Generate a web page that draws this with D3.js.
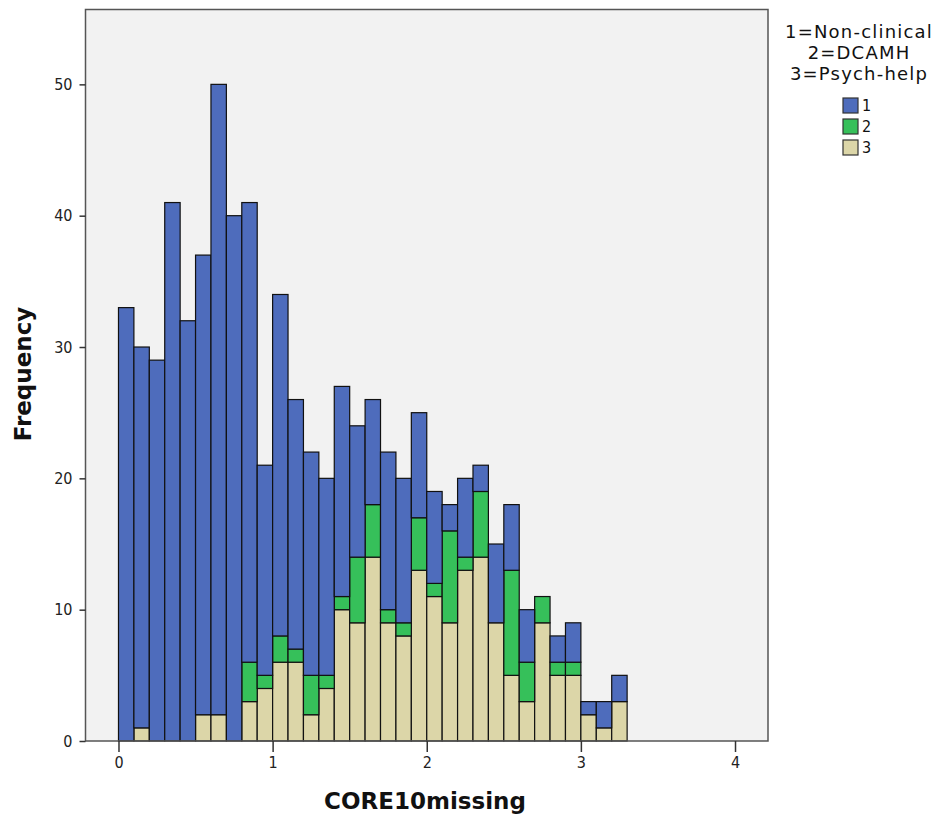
<!DOCTYPE html>
<html>
<head>
<meta charset="utf-8">
<script src="https://cdn.jsdelivr.net/npm/d3@7"></script>
<style>
  body { margin: 0; background: #fff; }
  text { font-family: "DejaVu Sans", sans-serif; }
</style>
</head>
<body>
<svg id="chart" width="941" height="815"></svg>
<script>
// bin lower edges (width 0.1)
let binStarts = d3.range(33).map(i => +(i * 0.1).toFixed(1));
let binWidth = 0.1;

// counts per group, one per bin
let group1 = [33, 29, 29, 41, 32, 35, 48, 40, 35, 16, 26, 19, 17, 15, 16, 10,
              8, 12, 11, 8, 7, 2, 6, 2, 6, 5, 4, 0, 2, 3, 1, 2, 2];
let group2 = [0, 0, 0, 0, 0, 0, 0, 0, 3, 1, 2, 1, 3, 1, 1, 5,
              4, 1, 1, 4, 1, 7, 1, 5, 0, 8, 3, 2, 1, 1, 0, 0, 0];
let group3 = [0, 1, 0, 0, 0, 2, 2, 0, 3, 4, 6, 6, 2, 4, 10, 9,
              14, 9, 8, 13, 11, 9, 13, 14, 9, 5, 3, 9, 5, 5, 2, 1, 3];

let groupKeys = ["3", "2", "1"]; // stacking order, bottom first
let legendKeys = ["1", "2", "3"];
let legendTitle = ["1=Non-clinical", "2=DCAMH", "3=Psych-help"];
let colors = { "1": "#4e6cbc", "2": "#36c05a", "3": "#dcd6a8" };

let xTicks = [0, 1, 2, 3, 4];
let yTicks = [0, 10, 20, 30, 40, 50];

let svg = d3.select("#chart");
let plotL = 85.5, plotR = 768, plotT = 9.5, plotB = 741;

let x = d3.scaleLinear().domain([-0.214, 4.214]).range([plotL, plotR]);
let y = d3.scaleLinear().domain([0, 55.7]).range([plotB, plotT]);

let rows = binStarts.map((b, i) => ({ x0: b, "1": group1[i], "2": group2[i], "3": group3[i] }));
let stacked = d3.stack().keys(groupKeys)(rows);

svg.append("rect")
  .attr("x", plotL).attr("y", plotT)
  .attr("width", plotR - plotL).attr("height", plotB - plotT)
  .attr("fill", "#f2f2f2");

let layers = svg.append("g").attr("class", "bars");
stacked.forEach(layer => {
  layers.append("g")
    .selectAll("rect")
    .data(layer.filter(d => d[1] > d[0]))
    .enter()
    .append("rect")
    .attr("x", d => x(d.data.x0))
    .attr("y", d => y(d[1]))
    .attr("width", d => x(d.data.x0 + binWidth) - x(d.data.x0))
    .attr("height", d => y(d[0]) - y(d[1]))
    .attr("fill", colors[layer.key])
    .attr("stroke", "#111")
    .attr("stroke-width", 1.2);
});

// frame
svg.append("rect")
  .attr("x", plotL).attr("y", plotT)
  .attr("width", plotR - plotL).attr("height", plotB - plotT)
  .attr("fill", "none")
  .attr("stroke", "#555")
  .attr("stroke-width", 1.5);

let yAxis = svg.append("g")
  .attr("transform", `translate(${plotL},0)`)
  .call(d3.axisLeft(y).tickValues(yTicks).tickSize(6).tickPadding(7).tickFormat(d3.format("d")));
let xAxis = svg.append("g")
  .attr("transform", `translate(0,${plotB})`)
  .call(d3.axisBottom(x).tickValues(xTicks).tickSize(11).tickPadding(5).tickFormat(d3.format("d")));

[yAxis, xAxis].forEach(a => {
  a.select(".domain").remove();
  a.selectAll(".tick line").attr("stroke", "#333").attr("stroke-width", 1.5);
  a.selectAll(".tick text")
    .attr("fill", "#222")
    .style("font-family", "'DejaVu Sans Condensed', 'DejaVu Sans', sans-serif")
    .style("font-size", "16px");
});

svg.append("text")
  .text("CORE10missing")
  .attr("x", 425).attr("y", 809)
  .attr("text-anchor", "middle")
  .style("font-size", "23px")
  .style("font-weight", "bold")
  .attr("fill", "#111");

svg.append("text")
  .text("Frequency")
  .attr("transform", "translate(31,374) rotate(-90)")
  .attr("text-anchor", "middle")
  .style("font-size", "23px")
  .style("font-weight", "bold")
  .attr("fill", "#111");

// legend
let legend = svg.append("g").attr("class", "legend");
legend.selectAll("text.title")
  .data(legendTitle)
  .enter()
  .append("text")
  .attr("class", "title")
  .text(t => t)
  .attr("x", 859)
  .attr("y", (d, i) => 38 + i * 21)
  .attr("text-anchor", "middle")
  .style("font-size", "18px")
  .style("letter-spacing", "1.2px")
  .attr("fill", "#111");

let items = legend.selectAll("g.item")
  .data(legendKeys)
  .enter()
  .append("g")
  .attr("class", "item")
  .attr("transform", (d, i) => `translate(843,${98 + i * 21})`);
items.append("rect")
  .attr("width", 15).attr("height", 15)
  .attr("fill", d => colors[d])
  .attr("stroke", "#333")
  .attr("stroke-width", 1.2);
items.append("text")
  .text(d => d)
  .attr("x", 19).attr("y", 13)
  .style("font-size", "16px")
  .style("font-family", "'DejaVu Sans Condensed', 'DejaVu Sans', sans-serif")
  .attr("fill", "#111");
</script>
</body>
</html>
